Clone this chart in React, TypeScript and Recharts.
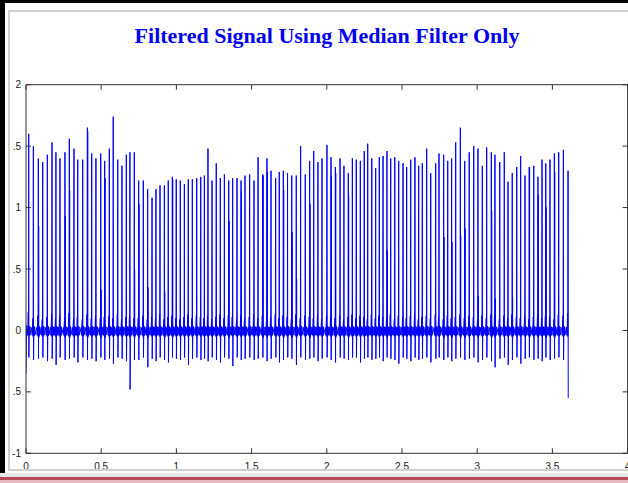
import React from 'react';
import { LineChart, Line, XAxis, YAxis } from 'recharts';

// Time (s) of each spike peak
const beatTimes = [
  0.018, 0.049, 0.082, 0.111, 0.142, 0.173, 0.199, 0.226, 0.259, 0.288, 0.319, 0.344, 0.377, 0.408, 0.437, 0.465, 0.497, 0.523, 0.554, 0.580, 0.610, 0.638, 0.667, 0.691, 0.720,
  0.749, 0.780, 0.809, 0.838, 0.864, 0.891, 0.920, 0.946, 0.973, 0.999, 1.026, 1.053, 1.079, 1.106, 1.135, 1.162, 1.186, 1.210, 1.237, 1.265, 1.292, 1.319, 1.348, 1.374, 1.403, 1.430, 1.456,
  1.487, 1.516, 1.543, 1.574, 1.602, 1.629, 1.660, 1.684, 1.711, 1.739, 1.767, 1.797, 1.826, 1.857, 1.886, 1.913, 1.941, 1.968, 2.001, 2.028, 2.057, 2.088, 2.114, 2.143, 2.170,
  2.196, 2.223, 2.249, 2.272, 2.299, 2.325, 2.349, 2.374, 2.400, 2.425, 2.452, 2.478, 2.507, 2.531, 2.558, 2.586, 2.611, 2.635, 2.664, 2.691, 2.724, 2.746, 2.777, 2.804, 2.830, 2.857, 2.888, 2.917, 2.947, 2.977, 3.005,
  3.034, 3.063, 3.094, 3.118, 3.150, 3.180, 3.205, 3.233, 3.263, 3.289, 3.318, 3.346, 3.376, 3.404, 3.431, 3.456, 3.484, 3.513, 3.542, 3.573, 3.604,
];

// Peak value of each spike
const beatPeaks = [
  1.60, 1.50, 1.40, 1.37, 1.43, 1.53, 1.45, 1.40, 1.45, 1.56, 1.48, 1.39, 1.39, 1.65, 1.44, 1.40, 1.44, 1.38, 1.48, 1.74, 1.39, 1.34, 1.43, 1.45, 1.45,
  1.22, 1.22, 1.15, 1.08, 1.15, 1.18, 1.18, 1.22, 1.25, 1.23, 1.22, 1.19, 1.23, 1.23, 1.24, 1.25, 1.26, 1.48, 1.22, 1.36, 1.24, 1.27, 1.22, 1.24, 1.24, 1.22, 1.26,
  1.27, 1.22, 1.41, 1.27, 1.40, 1.30, 1.24, 1.29, 1.30, 1.28, 1.26, 1.26, 1.50, 1.27, 1.38, 1.46, 1.37, 1.40, 1.51, 1.41, 1.33, 1.40, 1.34, 1.28, 1.40,
  1.39, 1.38, 1.46, 1.52, 1.40, 1.32, 1.41, 1.42, 1.46, 1.40, 1.41, 1.38, 1.36, 1.33, 1.39, 1.41, 1.34, 1.36, 1.48, 1.28, 1.36, 1.44, 1.43, 1.38, 1.40, 1.53, 1.65, 1.38, 1.45, 1.50, 1.48,
  1.34, 1.49, 1.45, 1.43, 1.37, 1.45, 1.21, 1.28, 1.33, 1.42, 1.26, 1.33, 1.34, 1.25, 1.39, 1.36, 1.39, 1.44, 1.45, 1.47, 1.30,
];

// Lowest value right after each spike
const beatTroughs = [
  -0.22, -0.24, -0.23, -0.22, -0.25, -0.23, -0.28, -0.22, -0.24, -0.23, -0.22, -0.26, -0.22, -0.24, -0.23, -0.25, -0.22, -0.24, -0.23, -0.27, -0.22, -0.23, -0.25, -0.48, -0.24,
  -0.24, -0.22, -0.30, -0.23, -0.25, -0.22, -0.24, -0.26, -0.22, -0.23, -0.24, -0.22, -0.28, -0.23, -0.22, -0.24, -0.23, -0.25, -0.22, -0.24, -0.26, -0.22, -0.23, -0.29, -0.22, -0.24, -0.23,
  -0.22, -0.24, -0.23, -0.22, -0.25, -0.23, -0.22, -0.26, -0.24, -0.22, -0.23, -0.28, -0.22, -0.24, -0.23, -0.22, -0.25, -0.23, -0.22, -0.24, -0.26, -0.22, -0.23, -0.24, -0.22,
  -0.22, -0.26, -0.23, -0.22, -0.24, -0.23, -0.22, -0.25, -0.22, -0.23, -0.24, -0.27, -0.22, -0.23, -0.25, -0.22, -0.24, -0.23, -0.22, -0.26, -0.23, -0.22, -0.24, -0.22, -0.25, -0.23, -0.22, -0.24, -0.23, -0.22, -0.26,
  -0.24, -0.22, -0.25, -0.30, -0.23, -0.22, -0.28, -0.24, -0.22, -0.27, -0.23, -0.22, -0.24, -0.23, -0.25, -0.22, -0.24, -0.23, -0.22, -0.24, -0.55,
];

// Small bump just before each spike
const beatBumps = [
  0.15, 0.10, 0.12, 0.09, 0.11, 0.13, 0.10, 0.12, 0.09, 0.14, 0.10, 0.11, 0.09, 0.13, 0.10, 0.12, 0.10, 0.11, 0.12, 0.10, 0.13, 0.09, 0.11, 0.12, 0.10,
  0.10, 0.12, 0.09, 0.11, 0.10, 0.13, 0.09, 0.11, 0.12, 0.10, 0.09, 0.11, 0.13, 0.10, 0.12, 0.11, 0.10, 0.12, 0.09, 0.11, 0.13, 0.10, 0.12, 0.11, 0.09, 0.12, 0.10,
  0.11, 0.13, 0.10, 0.12, 0.09, 0.11, 0.13, 0.10, 0.12, 0.11, 0.09, 0.13, 0.10, 0.12, 0.11, 0.10, 0.13, 0.09, 0.12, 0.11, 0.10, 0.12, 0.09, 0.11, 0.13,
  0.10, 0.12, 0.11, 0.09, 0.13, 0.10, 0.12, 0.11, 0.10, 0.13, 0.09, 0.12, 0.11, 0.10, 0.12, 0.13, 0.09, 0.11, 0.12, 0.10, 0.13, 0.11, 0.09, 0.12, 0.10, 0.11, 0.13, 0.10, 0.12, 0.11, 0.09,
  0.12, 0.10, 0.13, 0.11, 0.09, 0.12, 0.10, 0.13, 0.11, 0.10, 0.12, 0.09, 0.11, 0.13, 0.10, 0.12, 0.11, 0.09, 0.13, 0.12, 0.14,
];

// Second, shorter excursions seen inside some spikes
const partialTimes = [
  0.082, 0.259, 0.288, 0.408, 0.497, 0.523, 0.720, 0.749, 0.809, 0.920, 0.973, 1.348, 1.430, 1.574, 1.602, 1.711, 1.767, 1.797,
  1.886, 2.028, 2.057, 2.143, 2.400, 2.777, 2.830, 2.888, 2.917, 3.005, 3.094, 3.118, 3.233, 3.346, 3.404, 3.456, 3.513,
];
const partialPeaks = [
  0.85, 0.93, 1.14, 1.62, 0.33, 1.24, 0.49, 1.03, 0.35, 0.31, 1.23, 0.89, 1.13, 1.26, 1.29, 1.14, 0.80, 0.42,
  1.03, 1.26, 1.28, 1.10, 0.65, 0.76, 0.72, 0.77, 0.83, 0.28, 0.97, 0.26, 0.27, 1.32, 1.10, 1.00, 1.29,
];

// Start of the record
const leadInTimes = [0, 0.004];
const leadInValues = [-0.35, 0.04];

// Baseline ripple around each beat (offset from peak time, value)
const preOffsets = [-0.010, -0.0075, -0.005];
const preValues = [0.025, -0.04, 0.045];
const postOffsets = [0.0035, 0.006, 0.0085, 0.011];
const postValues = [0.035, -0.045, 0.03, -0.035];

const xTicks = [0, 0.5, 1, 1.5, 2, 2.5, 3, 3.5, 4];
const xTickLabels = ['0', '0.5', '1', '1.5', '2', '2.5', '3', '3.5', '4'];
const yTicks = [-1, -0.5, 0, 0.5, 1, 1.5, 2];
const yTickLabels = ['-1', '.5', '0', '.5', '1', '.5', '2'];

const TITLE = 'Filtered Signal Using Median Filter Only';

function buildSignal() {
  const pts: { x: number; y: number }[] = [];
  leadInTimes.forEach((t, i) => pts.push({ x: t, y: leadInValues[i] }));
  beatTimes.forEach((t, i) => {
    const last = i === beatTimes.length - 1;
    preOffsets.forEach((d, k) => pts.push({ x: t + d, y: preValues[k] }));
    pts.push({ x: t - 0.0028, y: beatBumps[i] });
    pts.push({ x: t - 0.0014, y: -0.05 });
    pts.push({ x: t, y: beatPeaks[i] });
    pts.push({ x: t + 0.0012, y: beatTroughs[i] });
    if (last) return;
    const p = partialTimes.findIndex((pt) => Math.abs(pt - t) < 1e-6);
    if (p >= 0) {
      pts.push({ x: t + 0.0022, y: partialPeaks[p] });
      pts.push({ x: t + 0.003, y: -0.06 });
    }
    postOffsets.forEach((d, k) => pts.push({ x: t + d, y: postValues[k] }));
  });
  return pts;
}

const signal = buildSignal();

const AX = '#333333';
const TICK_FONT = "'Liberation Sans Narrow', 'Arial Narrow', 'Liberation Sans', Arial, sans-serif";

const BottomTick = (props: any) => {
  const { x, y, payload } = props;
  const i = xTicks.indexOf(payload.value);
  return (
    <g>
      <line x1={x} x2={x} y1={y} y2={y - 5} stroke={AX} strokeWidth={1} />
      <text x={x} y={y + 16.5} textAnchor="middle" fontSize={10} fontFamily={TICK_FONT} fill="#222">
        {xTickLabels[i]}
      </text>
    </g>
  );
};

const TopTick = (props: any) => {
  const { x, y } = props;
  return <line x1={x} x2={x} y1={y} y2={y + 5} stroke={AX} strokeWidth={1} />;
};

const LeftTick = (props: any) => {
  const { x, y, payload } = props;
  const i = yTicks.indexOf(payload.value);
  return (
    <g>
      <line x1={x} x2={x + 5} y1={y} y2={y} stroke={AX} strokeWidth={1} />
      <text x={x - 5} y={y + 3.5} textAnchor="end" fontSize={10} fontFamily={TICK_FONT} fill="#222">
        {yTickLabels[i]}
      </text>
    </g>
  );
};

const RightTick = (props: any) => {
  const { x, y } = props;
  return <line x1={x} x2={x - 5} y1={y} y2={y} stroke={AX} strokeWidth={1} />;
};

export default function App() {
  return (
    <div
      style={{
        position: 'absolute',
        left: 0,
        top: 0,
        width: 628,
        height: 483,
        background: '#ffffff',
        overflow: 'hidden',
      }}
    >
      <LineChart
        width={628}
        height={483}
        data={signal}
        margin={{ top: 83.7, right: 0, bottom: 0, left: 0 }}
      >
        <XAxis
          dataKey="x"
          type="number"
          domain={[0, 4]}
          ticks={xTicks}
          interval={0}
          allowDataOverflow
          height={29.7}
          tickSize={0}
          tickMargin={0}
          axisLine={{ stroke: AX }}
          tickLine={false}
          tick={(p: any) => <BottomTick {...p} />}
        />
        <XAxis
          xAxisId="top"
          orientation="top"
          dataKey="x"
          type="number"
          domain={[0, 4]}
          ticks={xTicks}
          interval={0}
          allowDataOverflow
          height={1}
          tickSize={0}
          tickMargin={0}
          axisLine={{ stroke: AX }}
          tickLine={false}
          tick={(p: any) => <TopTick {...p} />}
        />
        <YAxis
          type="number"
          domain={[-1, 2]}
          ticks={yTicks}
          interval={0}
          allowDataOverflow
          width={26}
          tickSize={0}
          tickMargin={0}
          axisLine={{ stroke: AX }}
          tickLine={false}
          tick={(p: any) => <LeftTick {...p} />}
        />
        <YAxis
          yAxisId="right"
          orientation="right"
          type="number"
          domain={[-1, 2]}
          ticks={yTicks}
          interval={0}
          allowDataOverflow
          width={0.4}
          tickSize={0}
          tickMargin={0}
          axisLine={{ stroke: AX }}
          tickLine={false}
          tick={(p: any) => <RightTick {...p} />}
        />
        <Line
          type="linear"
          dataKey="y"
          stroke="#0000ff"
          strokeWidth={1}
          dot={false}
          activeDot={false}
          isAnimationActive={false}
        />
      </LineChart>
      <svg
        width={628}
        height={483}
        style={{ position: 'absolute', left: 0, top: 0, pointerEvents: 'none' }}
      >
        <rect x={0} y={0} width={628} height={3} fill="#000" />
        <rect x={0} y={0} width={5} height={473} fill="#000" />
        <rect x={8} y={10} width={620} height={2} fill="#cfcfcf" />
        <rect x={8} y={10} width={2} height={461} fill="#cfcfcf" />
        <rect x={8} y={469} width={620} height={2} fill="#cfcfcf" />
        <rect x={0} y={473} width={628} height={4} fill="#e6e6e6" />
        <rect x={0} y={477} width={628} height={3} fill="#b84a5c" />
        <rect x={0} y={480} width={628} height={3} fill="#e9b7c0" />
        <text
          x={327}
          y={43}
          textAnchor="middle"
          fontFamily="'Liberation Serif', 'Times New Roman', serif"
          fontWeight="bold"
          fontSize={22}
          fill="#0000ee"
        >
          {TITLE}
        </text>
      </svg>
    </div>
  );
}
